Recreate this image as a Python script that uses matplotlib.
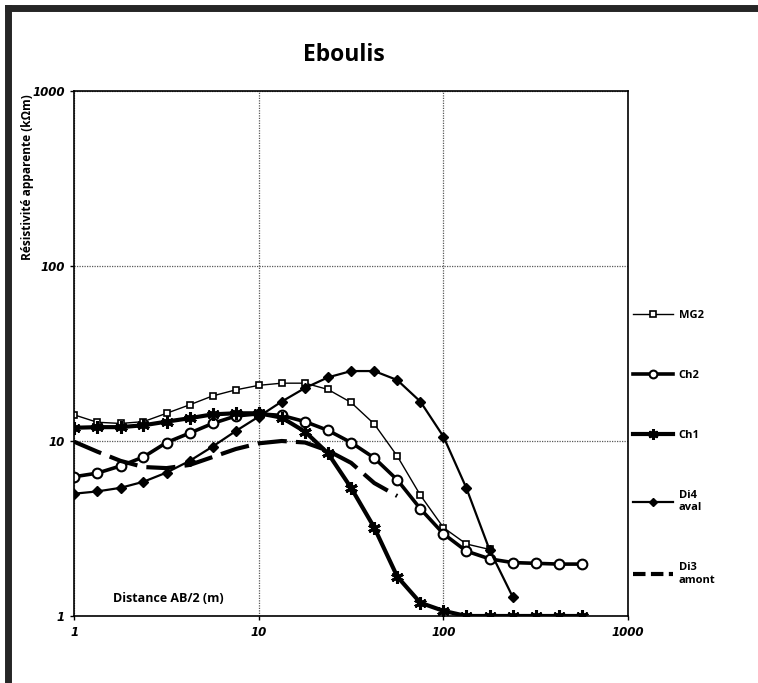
import numpy as np
import matplotlib
matplotlib.use("Agg")
import matplotlib.pyplot as plt
from matplotlib.lines import Line2D

# AB/2 spacings (m), 8 per decade
ab2 = [1, 1.33, 1.78, 2.37, 3.16, 4.22, 5.62, 7.5, 10, 13.3, 17.8, 23.7, 31.6,
       42.2, 56.2, 75, 100, 133, 178, 237, 316, 422, 562]

# apparent resistivity (kOhm.m)
mg2 = [14.1, 12.8, 12.6, 12.9, 14.4, 16.1, 18.1, 19.6, 20.8, 21.4, 21.4, 19.7,
       16.6, 12.5, 8.2, 4.9, 3.2, 2.58, 2.4]
ch2 = [6.25, 6.55, 7.2, 8.1, 9.8, 11.1, 12.6, 13.9, 14.3, 14.0, 12.9, 11.5,
       9.8, 8.0, 6.0, 4.1, 2.95, 2.35, 2.12, 2.02, 2.0, 1.98, 1.98]
ch1 = [11.9, 12.0, 12.0, 12.3, 12.9, 13.5, 14.2, 14.4, 14.4, 13.6, 11.3, 8.5,
       5.4, 3.2, 1.68, 1.19, 1.07, 1.0, 1.0, 1.0, 1.0, 1.0, 1.0]
di4 = [5.0, 5.15, 5.4, 5.85, 6.6, 7.7, 9.3, 11.4, 13.8, 16.8, 20.1, 23.1,
       25.1, 25.1, 22.3, 16.8, 10.6, 5.4, 2.38, 1.29]
di3 = [9.9, 8.7, 7.7, 7.1, 7.0, 7.3, 8.1, 9.0, 9.7, 10.0, 9.8, 8.8, 7.5,
       5.75, 4.85]

labels = ["MG2", "Ch2", "Ch1", "Di4\naval", "Di3\namont"]
ticks = [1, 10, 100, 1000]
tick_labels = ["1", "10", "100", "1000"]

W, H = 758, 683
fig = plt.figure(figsize=(W / 100, H / 100), dpi=100)
ax = fig.add_axes([74.3 / W, 1 - 616 / H, (628 - 74.3) / W, (616 - 91) / H])

lab_font = ["Open Sans", "DejaVu Sans"]
tick_font = ["Liberation Sans Narrow", "DejaVu Sans"]

k = "black"
h_mg2, = ax.plot(ab2[:len(mg2)], mg2, "-", color=k, lw=1.0, marker="s", ms=5,
                 mfc="white", mec=k, mew=1.2)
h_ch2, = ax.plot(ab2[:len(ch2)], ch2, "-", color=k, lw=2.6, marker="o", ms=7,
                 mfc="white", mec=k, mew=1.5)
h_ch1, = ax.plot(ab2[:len(ch1)], ch1, "-", color=k, lw=3.0, marker=(6, 2, 0),
                 ms=9, mec=k, mew=2.2)
h_di4, = ax.plot(ab2[:len(di4)], di4, "-", color=k, lw=1.6, marker="D", ms=5,
                 mfc=k, mec=k)
ax.plot(ab2[:len(di3)], di3, color=k, lw=3.0, dashes=(7, 2.2))
# legend shows the dash pattern shorter, as in the original
h_di3 = Line2D([], [], color=k, lw=3.0, dashes=(3, 1.3))

ax.set_xscale("log"); ax.set_yscale("log")
ax.set_xlim(1, 1000); ax.set_ylim(1, 1000)
ax.set_xticks(ticks); ax.set_yticks(ticks)
ax.set_xticklabels(tick_labels); ax.set_yticklabels(tick_labels)
ax.minorticks_off()
for t in ax.get_xticklabels() + ax.get_yticklabels():
    t.set_family(tick_font); t.set_style("italic"); t.set_weight("bold")
    t.set_fontsize(8.5)
ax.tick_params(length=3, width=1, pad=4)
ax.grid(True, which="major", ls=(0, (1, 1)), color="0.35", lw=0.9)
for s in ax.spines.values():
    s.set_linewidth(1.2)

ax.text(0.07, 0.034, "Distance AB/2 (m)", transform=ax.transAxes,
        family=lab_font, weight="bold", fontsize=9, va="center")
fig.text(28 / W, 1 - 177 / H, "Résistivité apparente (k\u03a9m)", rotation=90,
         family=lab_font, weight="bold", fontsize=8.6, ha="center", va="center")
fig.text(344 / W, 1 - 55 / H, "Eboulis", family=lab_font, weight="bold",
         fontsize=16.5, ha="center", va="center")

leg = ax.legend([h_mg2, h_ch2, h_ch1, h_di4, h_di3], labels, loc="upper left",
                bbox_to_anchor=(633 / W, 1 - 310 / H), bbox_transform=fig.transFigure,
                frameon=False, handlelength=3.6, handletextpad=0.5,
                labelspacing=4.4, borderaxespad=0, borderpad=0,
                markerscale=0.8,
                prop={"family": lab_font, "weight": "bold", "size": 8})

# figure frame
fig.add_artist(Line2D([8 / W, 8 / W], [0.005, 1 - 8 / H], transform=fig.transFigure,
                      color="0.15", lw=5))
fig.add_artist(Line2D([8 / W, 0.998], [1 - 8 / H, 1 - 8 / H], transform=fig.transFigure,
                      color="0.15", lw=5))

fig.savefig("out.png", dpi=100)
